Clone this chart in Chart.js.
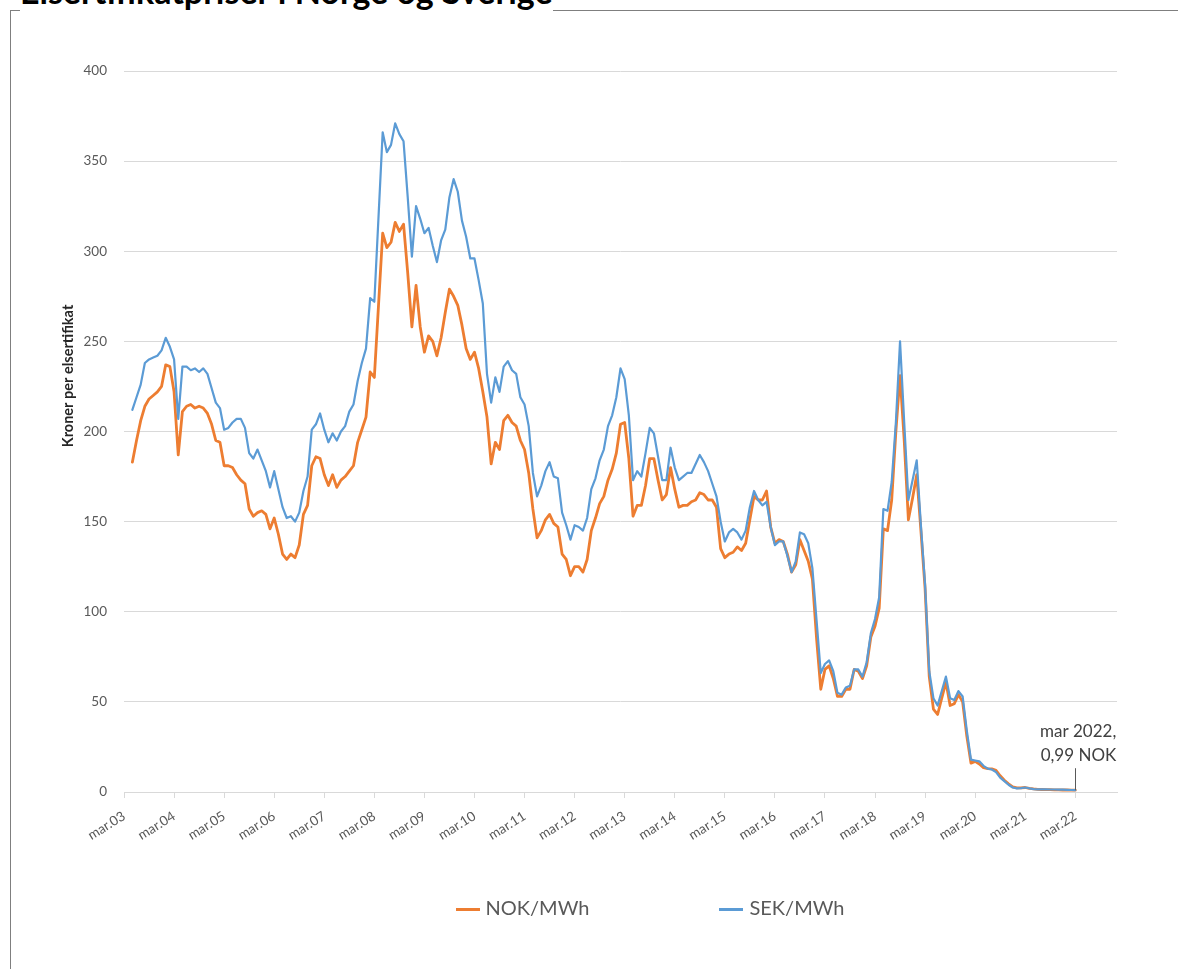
<!DOCTYPE html>
<html>
<head>
<meta charset="utf-8">
<script src="https://cdn.jsdelivr.net/npm/chart.js@4.4.1/dist/chart.umd.min.js"></script>
<style>
    html, body { margin: 0; padding: 0; background: #fff; }
    body { width: 1178px; height: 969px; overflow: hidden; position: relative; font-family: Lato, "Open Sans", sans-serif; }
    #frame { position: absolute; left: 10px; top: 10px; width: 1300px; height: 1100px; border: 1px solid #7f7f7f; }
    #title { position: absolute; left: 20px; top: -30px; font: bold 34px Lato, sans-serif; color: #000; background: #fff; white-space: nowrap; }
    #chart { position: absolute; left: 0; top: 0; }
    #legend { position: absolute; top: 895px; left: 122px; width: 1056px; text-align: center; font-size: 20px; color: #595959; }
    .item { display: inline-block; margin: 0 65px; }
    .swatch { display: inline-block; width: 24px; height: 3px; vertical-align: middle; margin-right: 6px; }
</style>
</head>
<body>
<div id="frame"></div>
<div id="title">Elsertifikatpriser i Norge og Sverige</div>
<canvas id="chart" width="1178" height="969"></canvas>
<div id="legend"></div>
<script>
// months counted from mar 2003 (index 0); series start in mai 2003
const firstMonth = 2;
const lastAxisMonth = 238;
const yearLabels = [
    'mar.03', 'mar.04', 'mar.05', 'mar.06', 'mar.07', 'mar.08', 'mar.09', 'mar.10', 'mar.11', 'mar.12',
    'mar.13', 'mar.14', 'mar.15', 'mar.16', 'mar.17', 'mar.18', 'mar.19', 'mar.20', 'mar.21', 'mar.22'
];
const seriesNames = ['NOK/MWh', 'SEK/MWh'];
const seriesColors = ['#ED7D31', '#5B9BD5'];

const nokValues = [
    183, 195, 206, 214, 218, 220, 222, 225, 237, 236, 222, 187,
    211, 214, 215, 213, 214, 213, 210, 204, 195, 194, 181, 181,
    180, 176, 173, 171, 157, 153, 155, 156, 154, 146, 152, 143,
    132, 129, 132, 130, 137, 154, 159, 181, 186, 185, 176, 170,
    176, 169, 173, 175, 178, 181, 194, 201, 208, 233, 230, 270,
    310, 302, 305, 316, 311, 315, 288, 258, 281, 258, 244, 253,
    250, 242, 252, 266, 279, 275, 270, 259, 246, 240, 244, 235,
    222, 208, 182, 194, 190, 206, 209, 205, 203, 195, 190, 177,
    157, 141, 145, 151, 154, 149, 147, 132, 129, 120, 125, 125,
    122, 129, 145, 152, 160, 164, 173, 179, 188, 204, 205, 185,
    153, 159, 159, 170, 185, 185, 173, 162, 165, 180, 168, 158,
    159, 159, 161, 162, 166, 165, 162, 162, 158, 135, 130, 132,
    133, 136, 134, 138, 151, 164, 162, 162, 167, 147, 138, 140,
    139, 132, 122, 126, 140, 134, 128, 118, 85, 57, 68, 70,
    63, 53, 53, 57, 57, 68, 67, 63, 70, 86, 92, 102,
    146, 145, 162, 200, 231, 195, 151, 163, 176, 145, 113, 64,
    46, 43, 52, 61, 48, 49, 54, 50, 31, 16, 17, 15.5,
    13.5, 13, 12.8, 12, 9, 6.5, 4.5, 2.8, 2.3, 2.3, 2.5, 2,
    1.7, 1.5, 1.4, 1.3, 1.3, 1.2, 1.2, 1.1, 1.1, 1.0, 0.99
];

const sekValues = [
    212, 219, 226, 238, 240, 241, 242, 245, 252, 247, 240, 207,
    236, 236, 234, 235, 233, 235, 232, 224, 216, 213, 201, 202,
    205, 207, 207, 202, 188, 185, 190, 184, 178, 169, 178, 168,
    158, 152, 153, 150, 155, 167, 175, 201, 204, 210, 201, 194,
    199, 195, 200, 203, 211, 215, 228, 238, 246, 274, 272, 319,
    366, 355, 359, 371, 365, 361, 330, 297, 325, 318, 310, 313,
    303, 294, 306, 312, 330, 340, 333, 317, 308, 296, 296, 284,
    271, 232, 216, 230, 222, 236, 239, 234, 232, 219, 215, 203,
    177, 164, 170, 178, 183, 175, 174, 155, 148, 140, 148, 147,
    145, 152, 168, 174, 184, 190, 203, 209, 219, 235, 229, 209,
    173, 178, 175, 188, 202, 199, 186, 173, 173, 191, 180, 173,
    175, 177, 177, 182, 187, 183, 178, 171, 164, 150, 139, 144,
    146, 144, 140, 145, 158, 167, 162, 159, 161, 147, 137, 139,
    139, 131, 122, 128, 144, 143, 138, 124, 95, 66, 71, 73,
    67, 55, 54, 58, 59, 68, 68, 64, 72, 88, 96, 108,
    157, 156, 172, 205, 250, 205, 162, 173, 184, 148, 115, 67,
    52, 48, 56, 64, 52, 51, 56, 53, 34, 18, 17.5, 17,
    14.5, 13, 12.5, 11, 8, 6, 4, 2.5, 2, 2.2, 2.5, 2,
    1.6, 1.5, 1.5, 1.5, 1.4, 1.4, 1.3, 1.3, 1.2, 1.1, 1.0
];

const annotationLines = ['mar 2022,', '0,99 NOK'];

function toPoints(values) {
    return values.map((v, i) => ({ x: firstMonth + i, y: v }));
}

// legend as plain html under the chart
const legendBox = document.getElementById('legend');
seriesNames.forEach((name, i) => {
    const item = document.createElement('span');
    item.className = 'item';
    item.innerHTML = '<span class="swatch" style="background:' + seriesColors[i] + '"></span>' + name;
    legendBox.appendChild(item);
});

const yTitlePlugin = {
    id: 'yTitle',
    afterDraw(chart) {
        const c = chart.ctx;
        c.save();
        c.translate(chart.chartArea.left - 56, chart.chartArea.top + 305);
        c.rotate(-Math.PI / 2);
        c.font = 'bold 14.5px Lato, sans-serif';
        c.fillStyle = '#262626';
        c.textAlign = 'center';
        c.textBaseline = 'middle';
        c.fillText('Kroner per elsertifikat', 0, 0);
        c.restore();
    }
};

const lastPointNote = {
    id: 'lastPointNote',
    afterDatasetsDraw(chart) {
        const meta = chart.getDatasetMeta(0);
        const last = meta.data[meta.data.length - 1];
        const c = chart.ctx;
        c.save();
        c.strokeStyle = '#595959';
        c.lineWidth = 1;
        c.beginPath();
        c.moveTo(Math.round(last.x) + 0.5, last.y - 22);
        c.lineTo(Math.round(last.x) + 0.5, last.y);
        c.stroke();
        c.font = '17px Lato, sans-serif';
        c.fillStyle = '#404040';
        c.textAlign = 'right';
        c.textBaseline = 'alphabetic';
        c.fillText(annotationLines[0], last.x + 41, last.y - 53);
        c.fillText(annotationLines[1], last.x + 41, last.y - 29);
        c.restore();
    }
};

const tickFont = { family: 'Lato, sans-serif', size: 13.5 };

const ctx = document.getElementById('chart').getContext('2d');
const chart = new Chart(ctx, {
    type: 'line',
    data: {
        datasets: [{
            label: seriesNames[0],
            data: toPoints(nokValues),
            borderColor: seriesColors[0],
            borderWidth: 2.8,
            pointRadius: 0,
            borderJoinStyle: 'round',
            borderCapStyle: 'round',
            order: 1
        }, {
            label: seriesNames[1],
            data: toPoints(sekValues),
            borderColor: seriesColors[1],
            borderWidth: 2.2,
            pointRadius: 0,
            borderJoinStyle: 'round',
            borderCapStyle: 'round',
            order: 0
        }]
    },
    options: {
        responsive: false,
        animation: false,
        layout: { padding: { left: 0, right: 61, top: 71, bottom: 0 } },
        plugins: {
            legend: { display: false },
            tooltip: { enabled: false }
        },
        scales: {
            x: {
                type: 'linear',
                min: 0,
                max: lastAxisMonth,
                afterFit: scale => { scale.height = 177; },
                ticks: {
                    stepSize: 12,
                    includeBounds: false,
                    autoSkip: false,
                    minRotation: 32,
                    maxRotation: 32,
                    padding: 10,
                    color: '#595959',
                    font: tickFont,
                    callback: value => yearLabels[value / 12]
                },
                grid: { drawOnChartArea: false, tickLength: 6, color: '#d9d9d9' },
                border: { color: '#d9d9d9' }
            },
            y: {
                min: 0,
                max: 400,
                afterFit: scale => { scale.width = 124; },
                ticks: { stepSize: 50, padding: 17, color: '#595959', font: tickFont },
                grid: { color: '#d9d9d9', drawTicks: false },
                border: { display: false }
            }
        }
    },
    plugins: [yTitlePlugin, lastPointNote]
});
</script>
</body>
</html>
